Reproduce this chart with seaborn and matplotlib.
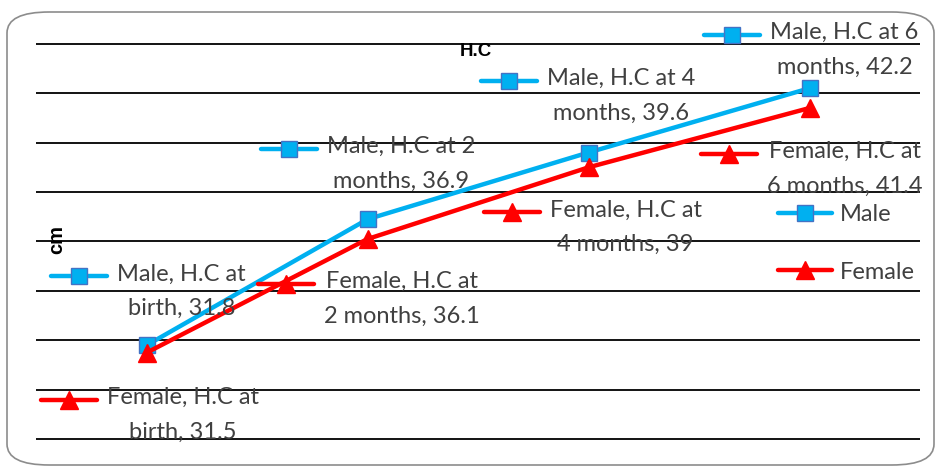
import seaborn as sns
import pandas as pd
import matplotlib.pyplot as plt
from matplotlib.lines import Line2D
from matplotlib.patches import FancyBboxPatch
from matplotlib.transforms import IdentityTransform

ages = ["birth", "2 months", "4 months", "6 months"]
male_hc = [31.8, 36.9, 39.6, 42.2]
female_hc = [31.5, 36.1, 39.0, 41.4]

data = pd.DataFrame({
    "age": ages + ages,
    "hc": male_hc + female_hc,
    "sex": ["Male"] * 4 + ["Female"] * 4,
})

colors = {"Male": "#00B0F0", "Female": "#FF0000"}
edges = {"Male": "#4472C4", "Female": "#FF0000"}
markers = {"Male": "s", "Female": "^"}
msize = {"Male": 11, "Female": 13}
txt_col = "#404040"
fs = 17

sns.set_style("white")
plt.rcParams['font.family'] = ['Lato', 'DejaVu Sans']

fig = plt.figure(figsize=(9.38, 4.67), dpi=100)
ax = fig.add_axes([36 / 938, 1 - 440 / 467, (920 - 36) / 938, (440 - 43) / 467])

sns.lineplot(data=data, x="age", y="hc", hue="sex", style="sex", palette=colors,
             markers=markers, dashes=False, lw=3.2, markersize=11, ax=ax, legend=False)
for line, sex in zip(ax.lines, ["Male", "Female"]):
    line.set_markeredgecolor(edges[sex])
    line.set_markeredgewidth(1)
    line.set_markersize(msize[sex])
    line.set_zorder(3)

ax.set_xlim(-0.5, 3.5)
ax.set_ylim(27.97, 44.03)
ax.set_yticks(range(28, 45, 2))
ax.grid(axis="y", color="black", lw=1.3)
ax.grid(axis="x", visible=False)
ax.set_xticks([])
ax.set_yticklabels([])
ax.tick_params(left=False, bottom=False)
for s in ax.spines.values():
    s.set_visible(False)
ax.set_xlabel("")
ax.set_ylabel("")

# data labels (text centre offset in pixels from the point)
male_off = [(35, 54), (34, 55), (33, 57), (35, 38)]
female_off = [(36, -62), (34, -60), (37, -60), (35, -61)]
texts = []
for sex, vals, offs in [("Male", male_hc, male_off), ("Female", female_hc, female_off)]:
    for i, (a, v) in enumerate(zip(ages, vals)):
        if a == "birth":
            lab = f"{sex}, H.C at\nbirth, {v:g}"
        elif sex == "Male":
            lab = f"{sex}, H.C at {a.split()[0]}\nmonths, {v:g}"
        else:
            lab = f"{sex}, H.C at\n{a}, {v:g}"
        t = ax.annotate(lab, xy=(i, v), xytext=offs[i], textcoords="offset pixels",
                        ha="center", va="center", multialignment="center",
                        fontsize=fs, color=txt_col, linespacing=1.82, zorder=5)
        texts.append((t, sex))

fig.canvas.draw()
for t, sex in texts:
    bb = t.get_window_extent()
    cx = bb.x0 - 38
    cy = bb.y1 - 13
    fig.add_artist(Line2D([cx - 28, cx + 28], [cy, cy], transform=IdentityTransform(),
                          color=colors[sex], lw=3.2, zorder=4))
    fig.add_artist(Line2D([cx], [cy], transform=IdentityTransform(), marker=markers[sex],
                          markersize=msize[sex], color=colors[sex], markeredgecolor=edges[sex],
                          markeredgewidth=1, zorder=4))

handles = [Line2D([], [], color=colors[s], lw=3.2, marker=markers[s], markersize=msize[s],
                  markeredgecolor=edges[s]) for s in ["Male", "Female"]]
fig.legend(handles, ["Male", "Female"], loc="upper left", bbox_to_anchor=(778 / 938, 1 - 204 / 467),
           frameon=False, fontsize=fs, labelcolor=txt_col, handlelength=2.3,
           labelspacing=1.55, handletextpad=0.3, borderpad=0, borderaxespad=0)

fig.text(476 / 938, 1 - 52 / 467, "H.C", ha="center", va="center", fontsize=13.5,
         fontweight="bold", color="black", family="Liberation Sans")
fig.text(57 / 938, 1 - 240 / 467, "cm", ha="center", va="center", rotation=90,
         fontsize=14.5, fontweight="bold", color="black", family="Liberation Sans")

fig.patches.append(FancyBboxPatch((7 / 938, 2 / 467), 927 / 938, 453 / 467,
                                  boxstyle="round,pad=0,rounding_size=0.045",
                                  transform=fig.transFigure, fill=False,
                                  edgecolor="#8c8c8c", lw=1.2, mutation_aspect=467 / 938 * 2))

fig.savefig("out.png", dpi=100)
